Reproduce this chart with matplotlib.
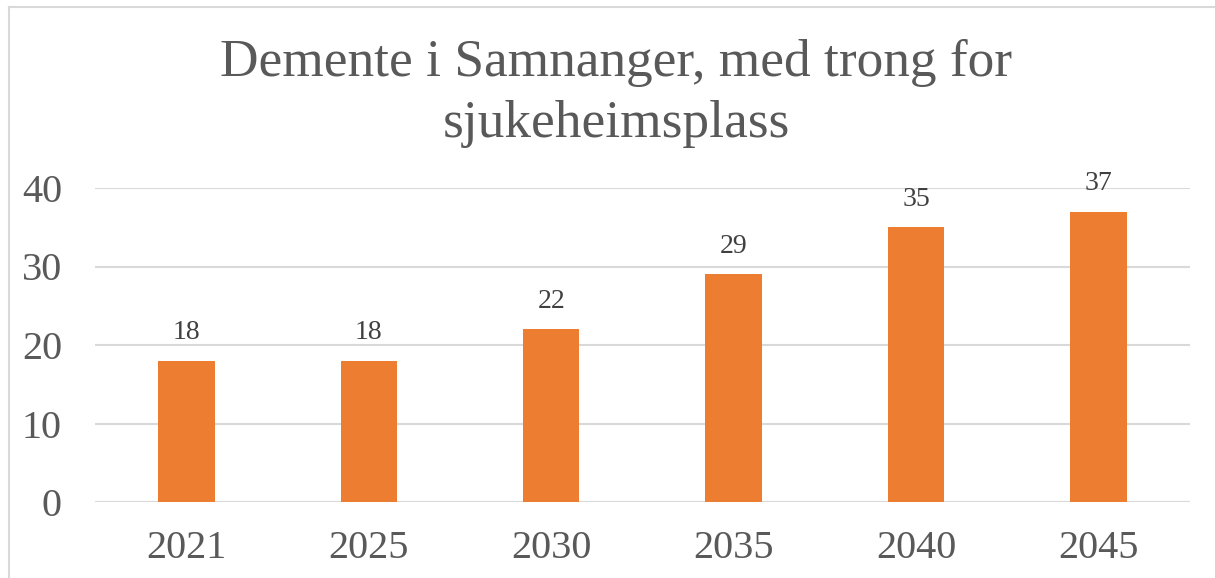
import matplotlib
matplotlib.use("Agg")
from matplotlib import pyplot as plt
from matplotlib.lines import Line2D

years = ["2021", "2025", "2030", "2035", "2040", "2045"]
values = [18, 18, 22, 29, 35, 37]
yticks = [0, 10, 20, 30, 40]

title = "Demente i Samnanger, med trong for\nsjukeheimsplass"

bar_color = "#ED7D31"
text_color = "#595959"
grid_color = "#D9D9D9"

plt.rcParams["font.family"] = ["Liberation Serif", "DejaVu Serif"]

W, H = 1215, 578
fig = plt.figure(figsize=(W / 100, H / 100), dpi=100)
ax = fig.add_axes([95.3 / W, (H - 502) / H, (1189.5 - 95.3) / W, (502 - 188) / H])

x = range(len(years))
bars = ax.bar(x, values, width=0.31, color=bar_color, zorder=3)

for xi, v in zip(x, values):
    ax.annotate(str(v), (xi, v), xytext=(0, 11), textcoords="offset points",
                ha="center", va="bottom", fontsize=20, color="#404040")

ax.set_xlim(-0.5, len(years) - 0.5)
ax.set_ylim(0, 40)
ax.set_yticks(yticks)
ax.set_xticks(list(x))
ax.set_xticklabels(years)
ax.tick_params(axis="y", length=0, pad=24, labelsize=29, labelcolor=text_color)
ax.tick_params(axis="x", length=0, pad=20, labelsize=29, labelcolor=text_color)
ax.grid(axis="y", color=grid_color, linewidth=1.5, zorder=0)
for s in ax.spines.values():
    s.set_visible(False)
ax.axhline(0, color=grid_color, linewidth=1.5, zorder=2)

fig.text(616 / W, 1 - 39 / H, title, ha="center", va="top", fontsize=38.4,
         color=text_color, linespacing=1.36)

# outer chart border (left and top edges visible)
fig.add_artist(Line2D([9 / W, 9 / W], [0, 1 - 7 / H], transform=fig.transFigure,
                      color=grid_color, linewidth=1.5))
fig.add_artist(Line2D([9 / W, 1], [1 - 7 / H, 1 - 7 / H], transform=fig.transFigure,
                      color=grid_color, linewidth=1.5))

fig.savefig("out.png", dpi=100)
